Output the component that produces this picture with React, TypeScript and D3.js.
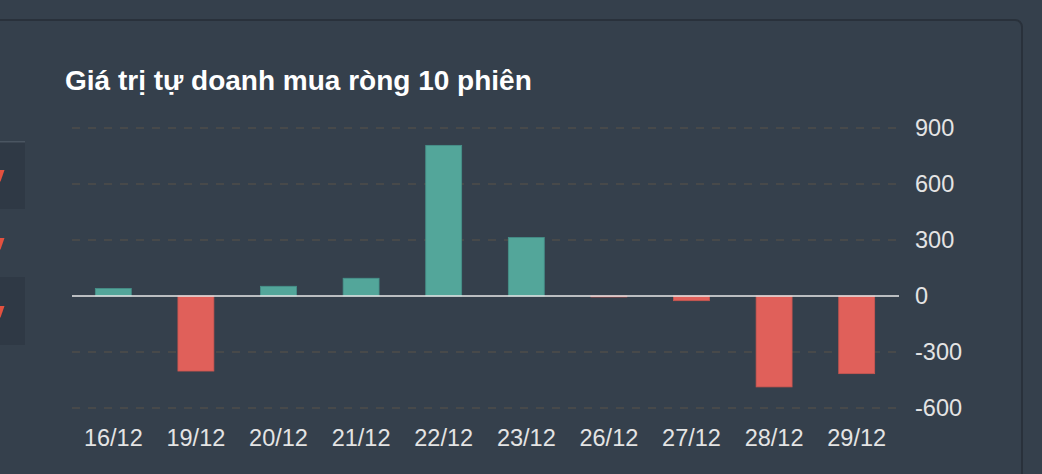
import React from "react";
import * as d3 from "d3";

const categories = ["16/12", "19/12", "20/12", "21/12", "22/12", "23/12", "26/12", "27/12", "28/12", "29/12"];
const values = [40, -402, 52, 95, 807, 313, -5, -25, -487, -416];
const yTicks = [900, 600, 300, 0, -300, -600];
const title = "Giá trị tự doanh mua ròng 10 phiên";

const W = 1042;
const H = 474;
const font = "'Liberation Sans', Arial, Helvetica, sans-serif";
const bg = "#35404c";
const up = "#53a69a";
const down = "#e0605a";

const App = () => {
  const x = d3
    .scaleBand()
    .domain(categories)
    .range([72, 898])
    .paddingInner(0.565)
    .paddingOuter(0.2825);
  const y = d3.scaleLinear().domain([-600, 900]).range([408, 128]);

  // side panel fragments on the left edge
  const sideBoxes = [141, 277];
  const sideArrows = [170, 238, 306];

  return (
    <svg
      width={W}
      height={H}
      style={{ position: "absolute", left: 0, top: 0, background: bg }}
    >
      <rect x={0} y={0} width={W} height={H} fill={bg} />
      <rect
        x={-20}
        y={20}
        width={1042}
        height={480}
        rx={7}
        fill={bg}
        stroke="#29313b"
        strokeWidth={2}
      />
      {sideBoxes.map((top, i) => (
        <g key={"box" + i}>
          <rect x={0} y={top} width={25} height={68} fill="#2f3945" />
          {i === 0 && <rect x={0} y={top} width={25} height={1.5} fill="#4a5561" />}
        </g>
      ))}
      {sideArrows.map((top, i) => (
        <path
          key={"arr" + i}
          d={`M0,${top} L4.5,${top} L0.5,${top + 11.5} L0,${top + 11.5} Z`}
          fill="#e4513f"
        />
      ))}

      <text x={65} y={90} fill="#ffffff" fontFamily={font} fontWeight="bold" fontSize={28}>
        {title}
      </text>

      {yTicks.map((t) => (
        <g key={"g" + t}>
          {t !== 0 && (
            <line
              x1={72}
              x2={898}
              y1={y(t)}
              y2={y(t)}
              stroke="#4e4c4a"
              strokeWidth={1.5}
              strokeDasharray="8,8"
            />
          )}
          <text
            x={915}
            y={y(t) + 7.5}
            fill="#e4e4e4"
            fontFamily={font}
            fontSize={23.5}
          >
            {t}
          </text>
        </g>
      ))}

      {categories.map((c, i) => {
        const v = values[i];
        const y0 = y(0);
        const y1 = y(v);
        return (
          <rect
            key={c}
            x={x(c) || 0}
            y={Math.min(y0, y1)}
            width={x.bandwidth()}
            height={Math.max(Math.abs(y1 - y0), 0.8)}
            fill={v >= 0 ? up : down}
            stroke={v >= 0 ? "#46918a" : "#c95650"}
            strokeWidth={0.8}
          />
        );
      })}

      <line x1={72} x2={899} y1={y(0)} y2={y(0)} stroke="#e8e8e8" strokeWidth={1.6} />

      {categories.map((c) => (
        <text
          key={"l" + c}
          x={(x(c) || 0) + x.bandwidth() / 2}
          y={446}
          textAnchor="middle"
          fill="#e4e4e4"
          fontFamily={font}
          fontSize={23.5}
        >
          {c}
        </text>
      ))}
    </svg>
  );
};

export default App;
